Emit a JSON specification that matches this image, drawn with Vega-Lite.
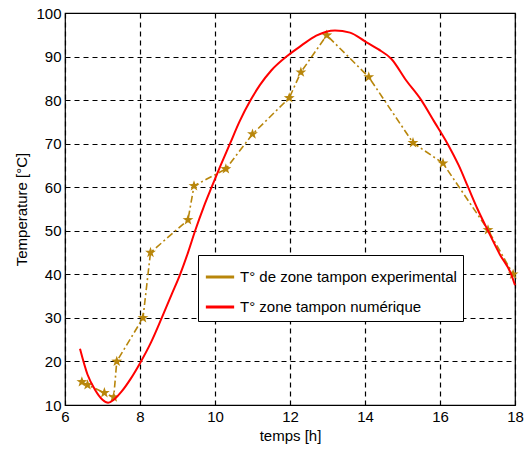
{
  "$schema": "https://vega.github.io/schema/vega-lite/v6.json",
  "width": 450,
  "height": 392,
  "autosize": "none",
  "padding": {"left": 65, "top": 13, "right": 10, "bottom": 54},
  "background": "white",
  "config": {
    "view": {"stroke": "black", "strokeWidth": 1.2},
    "font": "Liberation Sans",
    "axis": {
      "labelFont": "Liberation Sans",
      "titleFont": "Liberation Sans",
      "labelFontSize": 15,
      "titleFontSize": 15,
      "labelColor": "black",
      "titleColor": "black",
      "titleFontWeight": "normal",
      "domain": false,
      "tickColor": "black",
      "tickSize": 0,
      "grid": true,
      "gridColor": "black",
      "gridDash": [5, 4],
      "gridWidth": 1.2,
      "gridOpacity": 1
    },
    "legend": {
      "title": null,
      "symbolType": "stroke",
      "symbolSize": 800,
      "symbolStrokeWidth": 3,
      "labelFont": "Liberation Sans",
      "labelFontSize": 15,
      "labelColor": "black",
      "labelLimit": 0,
      "strokeColor": "black",
      "fillColor": "white",
      "padding": 6,
      "rowPadding": 6,
      "labelOffset": 4
    }
  },
  "datasets": {
    "exp": [
      {"heure": 6.45, "temp": 15.3, "serie": "T° de zone tampon experimental"},
      {"heure": 6.6, "temp": 14.6, "serie": "T° de zone tampon experimental"},
      {"heure": 7.05, "temp": 12.8, "serie": "T° de zone tampon experimental"},
      {"heure": 7.3, "temp": 11.8, "serie": "T° de zone tampon experimental"},
      {"heure": 7.38, "temp": 20, "serie": "T° de zone tampon experimental"},
      {"heure": 8.08, "temp": 30, "serie": "T° de zone tampon experimental"},
      {"heure": 8.28, "temp": 45, "serie": "T° de zone tampon experimental"},
      {"heure": 9.28, "temp": 52.5, "serie": "T° de zone tampon experimental"},
      {"heure": 9.44, "temp": 60.3, "serie": "T° de zone tampon experimental"},
      {"heure": 10.29, "temp": 64.2, "serie": "T° de zone tampon experimental"},
      {"heure": 11.0, "temp": 72.2, "serie": "T° de zone tampon experimental"},
      {"heure": 11.98, "temp": 80.5, "serie": "T° de zone tampon experimental"},
      {"heure": 12.29, "temp": 86.4, "serie": "T° de zone tampon experimental"},
      {"heure": 12.98, "temp": 94.9, "serie": "T° de zone tampon experimental"},
      {"heure": 14.1, "temp": 85.3, "serie": "T° de zone tampon experimental"},
      {"heure": 15.28, "temp": 70.2, "serie": "T° de zone tampon experimental"},
      {"heure": 16.08, "temp": 65.5, "serie": "T° de zone tampon experimental"},
      {"heure": 17.28, "temp": 50.2, "serie": "T° de zone tampon experimental"},
      {"heure": 17.95, "temp": 40, "serie": "T° de zone tampon experimental"}
    ],
    "num": [
      {"heure": 6.4, "temp": 22.9, "serie": "T° zone tampon numérique"},
      {"heure": 6.6, "temp": 17, "serie": "T° zone tampon numérique"},
      {"heure": 6.8, "temp": 13.5, "serie": "T° zone tampon numérique"},
      {"heure": 7.0, "temp": 11.2, "serie": "T° zone tampon numérique"},
      {"heure": 7.15, "temp": 10.5, "serie": "T° zone tampon numérique"},
      {"heure": 7.3, "temp": 11.2, "serie": "T° zone tampon numérique"},
      {"heure": 7.5, "temp": 13, "serie": "T° zone tampon numérique"},
      {"heure": 7.75, "temp": 16, "serie": "T° zone tampon numérique"},
      {"heure": 8.0, "temp": 19.6, "serie": "T° zone tampon numérique"},
      {"heure": 8.3, "temp": 24.5, "serie": "T° zone tampon numérique"},
      {"heure": 8.58, "temp": 30, "serie": "T° zone tampon numérique"},
      {"heure": 8.85, "temp": 35.5, "serie": "T° zone tampon numérique"},
      {"heure": 9.07, "temp": 40, "serie": "T° zone tampon numérique"},
      {"heure": 9.28, "temp": 45, "serie": "T° zone tampon numérique"},
      {"heure": 9.47, "temp": 50, "serie": "T° zone tampon numérique"},
      {"heure": 9.7, "temp": 55.5, "serie": "T° zone tampon numérique"},
      {"heure": 9.91, "temp": 60, "serie": "T° zone tampon numérique"},
      {"heure": 10.15, "temp": 65, "serie": "T° zone tampon numérique"},
      {"heure": 10.4, "temp": 70, "serie": "T° zone tampon numérique"},
      {"heure": 10.65, "temp": 75, "serie": "T° zone tampon numérique"},
      {"heure": 10.95, "temp": 80, "serie": "T° zone tampon numérique"},
      {"heure": 11.2, "temp": 83.5, "serie": "T° zone tampon numérique"},
      {"heure": 11.5, "temp": 86.8, "serie": "T° zone tampon numérique"},
      {"heure": 11.95, "temp": 90.3, "serie": "T° zone tampon numérique"},
      {"heure": 12.3, "temp": 92.5, "serie": "T° zone tampon numérique"},
      {"heure": 12.7, "temp": 94.8, "serie": "T° zone tampon numérique"},
      {"heure": 13.2, "temp": 96, "serie": "T° zone tampon numérique"},
      {"heure": 13.6, "temp": 95.5, "serie": "T° zone tampon numérique"},
      {"heure": 14.0, "temp": 93.5, "serie": "T° zone tampon numérique"},
      {"heure": 14.35, "temp": 91.7, "serie": "T° zone tampon numérique"},
      {"heure": 14.7, "temp": 89.5, "serie": "T° zone tampon numérique"},
      {"heure": 15.1, "temp": 84.5, "serie": "T° zone tampon numérique"},
      {"heure": 15.5, "temp": 80, "serie": "T° zone tampon numérique"},
      {"heure": 15.85, "temp": 75, "serie": "T° zone tampon numérique"},
      {"heure": 16.2, "temp": 70, "serie": "T° zone tampon numérique"},
      {"heure": 16.5, "temp": 65, "serie": "T° zone tampon numérique"},
      {"heure": 16.75, "temp": 60, "serie": "T° zone tampon numérique"},
      {"heure": 17.0, "temp": 55, "serie": "T° zone tampon numérique"},
      {"heure": 17.28, "temp": 50, "serie": "T° zone tampon numérique"},
      {"heure": 17.6, "temp": 44.5, "serie": "T° zone tampon numérique"},
      {"heure": 17.9, "temp": 40, "serie": "T° zone tampon numérique"},
      {"heure": 18.0, "temp": 37.5, "serie": "T° zone tampon numérique"}
    ]
  },
  "layer": [
    {
      "data": {"name": "exp"},
      "mark": {"type": "line", "strokeWidth": 1.6, "strokeDash": [7, 3, 2, 3]},
      "encoding": {
        "x": {"field": "heure", "type": "quantitative", "scale": {"domain": [6, 18], "nice": false, "zero": false},
              "axis": {"values": [6, 8, 10, 12, 14, 16, 18], "title": "temps [h]", "titlePadding": 4, "labelPadding": 4, "labelFlush": false}},
        "y": {"field": "temp", "type": "quantitative", "scale": {"domain": [10, 100], "nice": false, "zero": false},
              "axis": {"values": [10, 20, 30, 40, 50, 60, 70, 80, 90, 100], "title": "Temperature [°C]", "titlePadding": 6, "labelPadding": 4, "labelFlush": false}},
        "color": {"field": "serie", "type": "nominal",
                  "scale": {"domain": ["T° de zone tampon experimental", "T° zone tampon numérique"], "range": ["#b8860b", "#ff0000"]},
                  "legend": {"orient": "none", "legendX": 133, "legendY": 242, "title": null, "labelLimit": 0}}
      }
    },
    {
      "data": {"name": "exp"},
      "mark": {"type": "point", "shape": "M0,-1L0.235,-0.324L0.951,-0.309L0.38,0.124L0.588,0.809L0,0.4L-0.588,0.809L-0.38,0.124L-0.951,-0.309L-0.235,-0.324Z", "filled": true, "size": 130, "opacity": 1, "color": "#b8860b"},
      "encoding": {
        "x": {"field": "heure", "type": "quantitative"},
        "y": {"field": "temp", "type": "quantitative"}
      }
    },
    {
      "data": {"name": "num"},
      "mark": {"type": "line", "strokeWidth": 2, "interpolate": "monotone"},
      "encoding": {
        "x": {"field": "heure", "type": "quantitative"},
        "y": {"field": "temp", "type": "quantitative"},
        "color": {"field": "serie", "type": "nominal"}
      }
    }
  ]
}
